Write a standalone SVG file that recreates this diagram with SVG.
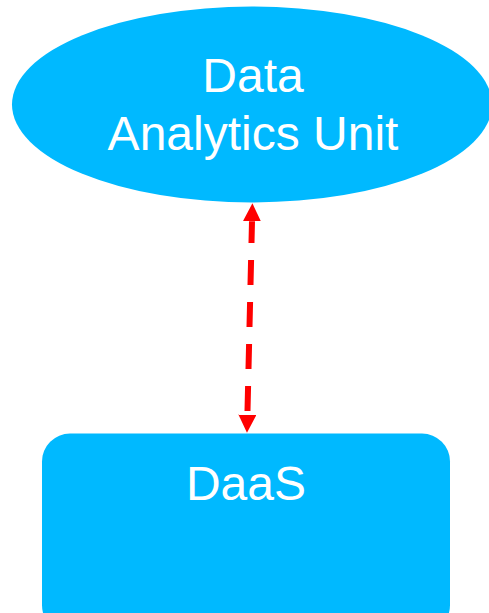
<svg xmlns="http://www.w3.org/2000/svg" width="489" height="613" viewBox="0 0 489 613">
  <style>
    .node { fill: #00b9ff; }
    .label { font-family: "Liberation Sans", Arial, sans-serif; font-size: 48px; fill: #ffffff; text-anchor: middle; }
    .link { stroke: #ff0000; stroke-width: 6; fill: none; stroke-dasharray: 25 17; stroke-dashoffset: 3.3; }
  </style>
  <defs>
    <!-- arrowhead anchored at its base so the dashed shaft stops where the head begins -->
    <marker id="arrow" markerUnits="userSpaceOnUse" markerWidth="18" markerHeight="18" refX="0" refY="9" orient="auto-start-reverse" viewBox="0 0 18 18">
      <path d="M0,0 L18,9 L0,18 Z" fill="#ff0000"/>
    </marker>
  </defs>

  <g id="connectors">
    <line class="link" x1="252.0" y1="221.3" x2="247.4" y2="414.7" marker-start="url(#arrow)" marker-end="url(#arrow)"/>
  </g>

  <g id="data-analytics-unit">
    <ellipse class="node" cx="252" cy="104.5" rx="240" ry="98"/>
    <text class="label" x="253" y="92">Data</text>
    <text class="label" x="253" y="150">Analytics Unit</text>
  </g>

  <g id="daas">
    <rect class="node" x="42" y="433.5" width="408" height="200" rx="28" ry="28"/>
    <text class="label" x="246" y="500">DaaS</text>
  </g>
</svg>
